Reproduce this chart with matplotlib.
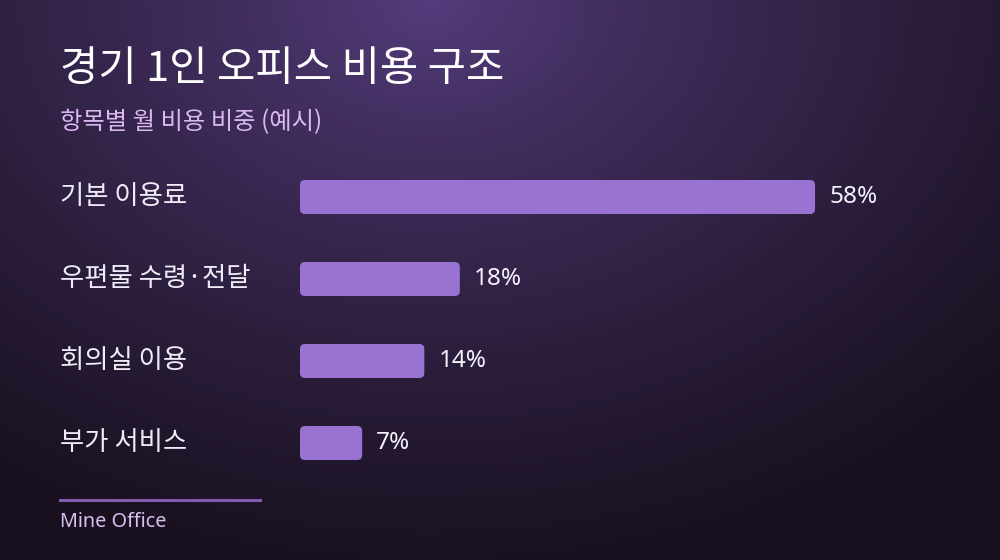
import numpy as np
import matplotlib
matplotlib.use('Agg')
import matplotlib.pyplot as plt
from matplotlib.patches import FancyBboxPatch
from matplotlib.transforms import blended_transform_factory
from matplotlib.colors import to_rgb

plt.rcParams['font.family'] = ['Noto Sans CJK KR', 'DejaVu Sans']
LATIN = ['Noto Sans', 'Noto Sans CJK KR']

# Data
categories = ['기본 이용료', '우편물 수령·전달', '회의실 이용', '부가 서비스']
shares = [58, 18, 14, 7]
value_labels = ['58%', '18%', '14%', '7%']
title = '경기 1인 오피스 비용 구조'
subtitle = '항목별 월 비용 비중 (예시)'
source = 'Mine Office'

W, H = 1000, 560
fig = plt.figure(figsize=(W / 100, H / 100), dpi=100)

# Background radial gradient
bg = fig.add_axes([0, 0, 1, 1])
yy, xx = np.mgrid[0:H, 0:W]
d = np.sqrt(((xx - 430) / 780.0) ** 2 + (yy / 580.0) ** 2)
d = np.clip(d, 0, 1) ** 0.8
c0 = np.array(to_rgb('#553d7e'))
c1 = np.array(to_rgb('#18101e'))
img = c0[None, None, :] * (1 - d[..., None]) + c1[None, None, :] * d[..., None]
bg.imshow(img, extent=[0, W, H, 0], aspect='auto')
bg.set_xlim(0, W)
bg.set_ylim(H, 0)
bg.axis('off')

# Bar axes: left edge at x=300 px, 8.88 px per percent
px_per_pct = 8.88
ax_left, ax_right = 300, 1000
ax_top, ax_bot = 156, 484
ax = fig.add_axes([ax_left / W, 1 - ax_bot / H, (ax_right - ax_left) / W, (ax_bot - ax_top) / H])
ax.set_xlim(0, (ax_right - ax_left) / px_per_pct)
ax.set_ylim(len(categories) - 0.5, -0.5)
ax.axis('off')
ax.patch.set_alpha(0)

x_per_px = 1 / px_per_pct
y_per_px = len(categories) / (ax_bot - ax_top)
bar_h = 34 * y_per_px
radius = 5 * x_per_px

bars = ax.barh(range(len(categories)), shares, height=bar_h, color='none')
for bar in bars:
    x, y = bar.get_x(), bar.get_y()
    w, h = bar.get_width(), bar.get_height()
    ax.add_patch(FancyBboxPatch((x, y), w, h,
                                boxstyle=f'round,pad=0,rounding_size={radius}',
                                mutation_aspect=y_per_px / x_per_px,
                                facecolor='#9a73d2', edgecolor='none'))

lab_tr = blended_transform_factory(fig.transFigure, ax.transData)
for i, (cat, v, lab) in enumerate(zip(categories, shares, value_labels)):
    ax.text(60 / W, i, cat, transform=lab_tr, ha='left', va='center',
            fontsize=19, color='#f1ebf8')
    ax.text(v + 14 * x_per_px, i, lab, ha='left', va='center',
            fontsize=17.5, color='#f6f1fb', family=LATIN)

# Titles
fig.text(60 / W, 1 - 70 / H, title, ha='left', va='center',
         fontsize=30, color='white', fontweight='medium')
fig.text(60 / W, 1 - 122 / H, subtitle, ha='left', va='center',
         fontsize=17.5, color='#dcb8f2')

# Footer
fig.add_artist(plt.Line2D([60 / W, 260 / W], [1 - 500 / H, 1 - 500 / H],
                          color='#7f5cb0', linewidth=2.2))
fig.text(60 / W, 1 - 522 / H, source, ha='left', va='center',
         fontsize=14.3, color='#d9bff0', family=LATIN)

fig.savefig('out.png', dpi=100)
